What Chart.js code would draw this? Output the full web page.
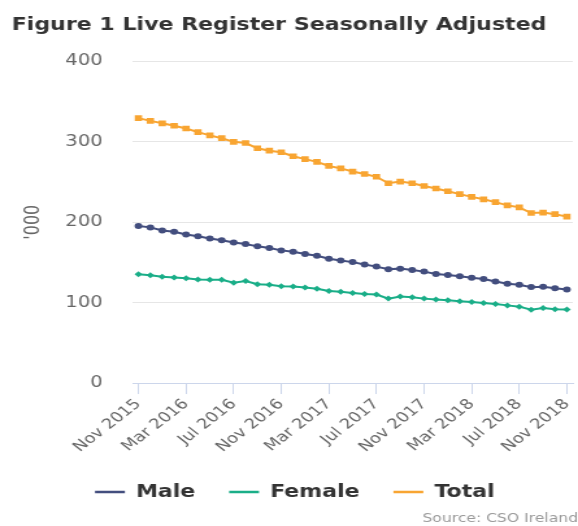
<!DOCTYPE html>
<html>
<head>
<meta charset="utf-8">
<script src="https://cdn.jsdelivr.net/npm/chart.js@4.4.1/dist/chart.umd.min.js"></script>
<style>
  html, body { margin: 0; padding: 0; background: #fff; overflow: hidden; }
  #wrap {
    position: absolute; left: 0; top: 0;
    width: 445px; height: 526px;
    transform: scaleX(1.2989); transform-origin: 0 0;
  }
</style>
</head>
<body>
<div id="wrap"><canvas id="liveRegister"></canvas></div>
<script>
const months = [
  'Nov 2015', 'Dec 2015', 'Jan 2016', 'Feb 2016', 'Mar 2016', 'Apr 2016', 'May 2016', 'Jun 2016',
  'Jul 2016', 'Aug 2016', 'Sep 2016', 'Oct 2016', 'Nov 2016', 'Dec 2016', 'Jan 2017', 'Feb 2017',
  'Mar 2017', 'Apr 2017', 'May 2017', 'Jun 2017', 'Jul 2017', 'Aug 2017', 'Sep 2017', 'Oct 2017',
  'Nov 2017', 'Dec 2017', 'Jan 2018', 'Feb 2018', 'Mar 2018', 'Apr 2018', 'May 2018', 'Jun 2018',
  'Jul 2018', 'Aug 2018', 'Sep 2018', 'Oct 2018', 'Nov 2018'
];

// thousands
const male = [
  195.3, 193.6, 189.8, 188.1, 184.8, 182.6, 179.7, 177.6, 174.7, 173.0, 170.0, 168.0,
  165.0, 163.3, 160.5, 158.3, 154.5, 152.4, 150.4, 147.4, 144.8, 141.5, 142.3, 140.7,
  138.6, 135.6, 134.4, 132.7, 131.0, 129.3, 126.4, 123.4, 122.2, 119.3, 119.7, 118.0, 116.4
];
const female = [
  135.2, 134.0, 132.3, 131.4, 130.2, 128.9, 128.5, 128.5, 124.7, 126.8, 123.0, 122.2,
  120.5, 120.1, 118.9, 117.2, 114.6, 113.4, 112.1, 110.8, 110.0, 105.0, 107.5, 106.7,
  105.0, 103.8, 102.9, 101.6, 100.8, 99.5, 98.2, 96.6, 95.0, 91.2, 93.2, 91.9, 91.6
];
const total = [
  329.5, 326.0, 323.0, 320.0, 316.5, 312.0, 308.0, 304.5, 300.0, 298.5, 292.0, 289.0,
  287.0, 282.0, 278.5, 275.0, 270.0, 267.0, 263.0, 260.0, 256.5, 248.5, 250.5, 248.5,
  245.0, 242.0, 238.5, 235.0, 231.5, 228.5, 225.0, 221.0, 218.5, 211.5, 212.0, 210.0, 207.0
];
const yTicks = [0, 100, 200, 300, 400];

const ctx = document.getElementById('liveRegister').getContext('2d');
const chart = new Chart(ctx, {
  type: 'line',
  data: {
    labels: months,
    datasets: [{
      label: 'Male',
      data: male,
      borderColor: '#434e7e',
      backgroundColor: '#434e7e',
      pointStyle: 'circle',
      pointRadius: 3
    }, {
      label: 'Female',
      data: female,
      borderColor: '#1aae88',
      backgroundColor: '#1aae88',
      pointStyle: 'rectRot',
      pointRadius: 3
    }, {
      label: 'Total',
      data: total,
      borderColor: '#f8a532',
      backgroundColor: '#f8a532',
      pointStyle: 'rect',
      pointRadius: 4
    }]
  },
  options: {
    responsive: true,
    maintainAspectRatio: false,
    animation: false,
    elements: {
      line: { borderWidth: 2, tension: 0 },
      point: { borderWidth: 0, hoverRadius: 4 }
    },
    layout: { padding: { left: 9, right: 0, top: 0, bottom: 0 } },
    plugins: {
      title: {
        display: true,
        text: 'Figure 1 Live Register Seasonally Adjusted',
        align: 'start',
        color: '#333333',
        font: { family: 'DejaVu Sans', size: 17, weight: 'bold' },
        padding: { top: 15, bottom: 26 }
      },
      subtitle: {
        display: true,
        position: 'bottom',
        align: 'end',
        text: 'Source: CSO Ireland',
        color: '#999999',
        font: { family: 'DejaVu Sans', size: 12 },
        padding: { top: 1, bottom: 0 }
      },
      legend: {
        position: 'bottom',
        labels: {
          usePointStyle: true,
          pointStyle: 'line',
          pointStyleWidth: 23,
          boxHeight: 17,
          padding: 26,
          color: '#333333',
          font: { family: 'DejaVu Sans', size: 17, weight: 'bold' },
          generateLabels: c => Chart.defaults.plugins.legend.labels.generateLabels(c)
            .map(item => Object.assign(item, { lineWidth: 2.5 }))
        }
      },
      tooltip: { enabled: false }
    },
    scales: {
      x: {
        offset: true,
        border: { display: true, color: '#ccd6eb', width: 1 },
        grid: {
          drawOnChartArea: false,
          drawTicks: true,
          tickLength: 11,
          tickColor: c => (c.index % 4 === 0 ? '#ccd6eb' : 'rgba(0,0,0,0)')
        },
        ticks: {
          autoSkip: false,
          maxRotation: 45,
          minRotation: 45,
          padding: 2,
          color: '#666666',
          font: { family: 'DejaVu Sans', size: 14 },
          callback: function (value, index) {
            return index % 4 === 0 ? months[index] : '';
          }
        },
        afterFit: scale => { scale.paddingLeft = 0; scale.paddingRight = 0; }
      },
      y: {
        min: 0,
        max: 400,
        afterBuildTicks: scale => { scale.ticks = yTicks.map(v => ({ value: v })); },
        afterFit: scale => { scale.width = 93; },
        border: { display: false },
        grid: { color: '#e6e6e6', lineWidth: 1, drawTicks: false },
        ticks: {
          padding: 23,
          color: '#666666',
          font: { family: 'DejaVu Sans', size: 15 }
        },
        title: {
          display: true,
          text: "'000",
          color: '#666666',
          font: { family: 'DejaVu Sans', size: 16 },
          padding: { top: 7, bottom: 15 }
        }
      }
    }
  }
});
</script>
</body>
</html>
